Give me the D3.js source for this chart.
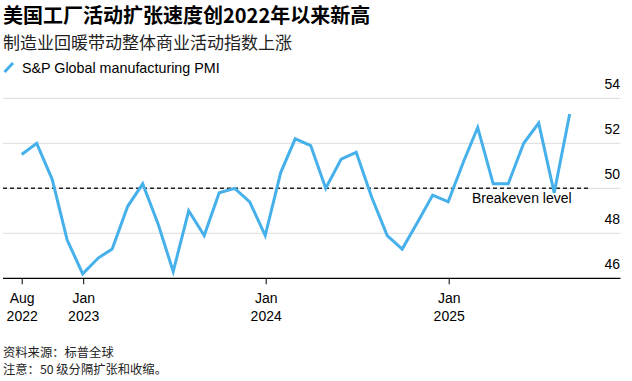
<!DOCTYPE html>
<head>
<meta charset="utf-8">
<style>
body, html {
  margin: 0;
  background: #fff;
  font-family: "Liberation Sans", Arial, sans-serif;
}
.grid line {
  stroke: #dcdcdc;
  stroke-width: 1;
}
.pmi {
  fill: none;
  stroke: #46b0ea;
  stroke-width: 3;
  stroke-linejoin: miter;
}
.cjk {
  font-family: "Noto Sans CJK SC", sans-serif;
}
</style>
<script src="https://d3js.org/d3.v7.min.js"></script>
</head>
<body>
<script>

// S&P Global US manufacturing PMI, monthly, Aug 2022 - Aug 2025
var months = ["2022-08","2022-09","2022-10","2022-11","2022-12",
  "2023-01","2023-02","2023-03","2023-04","2023-05","2023-06","2023-07","2023-08","2023-09","2023-10","2023-11","2023-12",
  "2024-01","2024-02","2024-03","2024-04","2024-05","2024-06","2024-07","2024-08","2024-09","2024-10","2024-11","2024-12",
  "2025-01","2025-02","2025-03","2025-04","2025-05","2025-06","2025-07","2025-08"];
var pmi = [51.5, 52.0, 50.4, 47.7, 46.2,
  46.9, 47.3, 49.2, 50.2, 48.4, 46.3, 49.0, 47.9, 49.8, 50.0, 49.4, 47.9,
  50.7, 52.2, 51.9, 50.0, 51.3, 51.6, 49.6, 47.9, 47.3, 48.5, 49.7, 49.4,
  51.2, 52.7, 50.2, 50.2, 52.0, 52.9, 49.8, 53.3];
var yTicks = [46, 48, 50, 52, 54];
var xTickDates = ["2022-08-31", "2023-01-01", "2024-01-01", "2025-01-01"];
var xTickLabels = [["Aug", "2022"], ["Jan", "2023"], ["Jan", "2024"], ["Jan", "2025"]];
var breakeven = 50;

var title = "美国工厂活动扩张速度创2022年以来新高";
var subtitle = "制造业回暖带动整体商业活动指数上涨";
var legendLabel = "S&P Global manufacturing PMI";
var notes = ["资料来源：标普全球", "注意：50 级分隔扩张和收缩。"];

//--------------------------------------
var width = 632, height = 381;
var parseDay = d3.timeParse("%Y-%m-%d");

// points sit at the end of each month
function monthEnd(s) {
  var p = s.split("-");
  return new Date(+p[0], +p[1], 0);
}

var data = months.map(function(m, i) { return {date: monthEnd(m), value: pmi[i]}; });

var x = d3.scaleTime()
    .domain([data[0].date, data[data.length - 1].date])
    .range([21.7, 569.7]);

var y = d3.scaleLinear()
    .domain([46, 54])
    .range([278.3, 98.3]);

var svg = d3.select("body").append("svg")
    .attr("width", width)
    .attr("height", height);

// titles
svg.append("text").attr("class", "cjk")
    .attr("x", 3).attr("y", 23)
    .style("font-size", "20px").style("font-weight", "bold")
    .text(title);
svg.append("text").attr("class", "cjk")
    .attr("x", 3).attr("y", 49)
    .style("font-size", "17px")
    .attr("fill", "#222")
    .text(subtitle);

// legend
svg.append("line")
    .attr("x1", 4.5).attr("y1", 72)
    .attr("x2", 13).attr("y2", 63)
    .attr("stroke", "#46b0ea").attr("stroke-width", 3);
svg.append("text")
    .attr("x", 22).attr("y", 72.5)
    .style("font-size", "14.3px")
    .text(legendLabel);

// gridlines + right side labels
var grid = svg.append("g").attr("class", "grid");
grid.selectAll("line")
    .data(yTicks.filter(function(d) { return d !== 46; }))
    .enter().append("line")
    .attr("x1", 3).attr("x2", 620.5)
    .attr("y1", function(d) { return y(d); })
    .attr("y2", function(d) { return y(d); });

svg.append("g").selectAll("text")
    .data(yTicks)
    .enter().append("text")
    .attr("x", 620)
    .attr("y", function(d) { return y(d) - 9; })
    .attr("text-anchor", "end")
    .style("font-size", "14px")
    .text(function(d) { return d; });

// breakeven
svg.append("line")
    .attr("x1", 3).attr("x2", 588)
    .attr("y1", y(breakeven)).attr("y2", y(breakeven))
    .attr("stroke", "#222")
    .attr("stroke-width", 1.5)
    .attr("stroke-dasharray", "4,3");
svg.append("text")
    .attr("x", 472).attr("y", y(breakeven) + 15)
    .style("font-size", "14px")
    .text("Breakeven level");

// line
var line = d3.line()
    .x(function(d) { return x(d.date); })
    .y(function(d) { return y(d.value); });

svg.append("path")
    .datum(data)
    .attr("class", "pmi")
    .attr("d", line);

// x axis
var xAxis = d3.axisBottom(x)
    .tickValues(xTickDates.map(parseDay))
    .tickSize(6)
    .tickFormat("");

var gx = svg.append("g")
    .attr("transform", "translate(0," + y(46) + ")")
    .call(xAxis);
gx.select(".domain").remove();
gx.selectAll(".tick line").attr("stroke", "#000");

svg.append("line")
    .attr("x1", 3).attr("x2", 620.5)
    .attr("y1", y(46)).attr("y2", y(46))
    .attr("stroke", "#000").attr("stroke-width", 1.2);

gx.selectAll(".tick").each(function(d, i) {
  var t = d3.select(this).append("text")
      .attr("fill", "#000")
      .attr("text-anchor", "middle")
      .style("font-size", "14px")
      .style("font-family", "'Liberation Sans', Arial, sans-serif");
  t.append("tspan").attr("x", 0).attr("y", 25).text(xTickLabels[i][0]);
  t.append("tspan").attr("x", 0).attr("y", 43).text(xTickLabels[i][1]);
});

// notes
svg.selectAll("text.note")
    .data(notes)
    .enter().append("text")
    .attr("class", "note cjk")
    .attr("x", 3)
    .attr("y", function(d, i) { return 357 + i * 17; })
    .style("font-size", "12.3px")
    .attr("fill", "#222")
    .text(function(d) { return d; });

</script>
</body>
</html>
